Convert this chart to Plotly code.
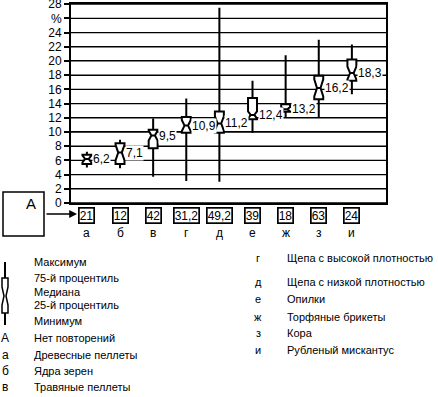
import plotly.graph_objects as go

# ---- data ----
categories = ["а", "б", "в", "г", "д", "е", "ж", "з", "и"]
medians = [6.2, 7.1, 9.5, 10.9, 11.2, 12.4, 13.2, 16.2, 18.3]
median_labels = ["6,2", "7,1", "9,5", "10,9", "11,2", "12,4", "13,2", "16,2", "18,3"]
q1 = [5.5, 5.5, 7.7, 9.9, 9.9, 11.8, 12.85, 14.6, 17.2]
q3 = [6.8, 8.4, 10.3, 12.1, 12.9, 14.8, 13.9, 17.9, 20.2]
minimum = [5.0, 4.9, 3.7, 3.1, 3.0, 9.9, 12.05, 12.05, 15.3]
maximum = [7.2, 8.9, 11.9, 14.7, 27.5, 17.2, 20.8, 23.0, 22.3]
notch = [0.5, 1.1, 0.7, 0.8, 1.0, 0.5, 0.3, 1.2, 0.9]
replicates = ["21", "12", "42", "31,2", "49,2", "39", "18", "63", "24"]
y_ticks = [0, 2, 4, 6, 8, 10, 12, 14, 16, 18, 20, 22, 24, 26, 28]
y_ticktext = ["0", "2", "4", "6", "8", "10", "12", "14", "16", "18", "20", "22", "24", "%", "28"]
legend_box = ["Максимум", "75-й процентиль", "Медиана", "25-й процентиль", "Минимум"]
legend_left_keys = ["А", "а", "б", "в"]
legend_left = ["Нет повторений", "Древесные пеллеты", "Ядра зерен", "Травяные пеллеты"]
legend_right_keys = ["г", "д", "е", "ж", "з", "и"]
legend_right = ["Щепа с высокой плотностью", "Щепа с низкой плотностью", "Опилки",
                "Торфяные брикеты", "Кора", "Рубленый мискантус"]

# ---- layout geometry (pixels) ----
W, H = 438, 397
L, R, T, B = 71, 386, 4, 203
FONT = "Liberation Sans, Arial, sans-serif"


def px(x):
    return (x - L) / (R - L)


def py(y):
    return (B - y) / (B - T)


xs = list(range(len(categories)))

fig = go.Figure()
fig.add_trace(go.Box(
    x=xs, q1=q1, median=medians, q3=q3,
    lowerfence=minimum, upperfence=maximum,
    notched=True, notchspan=notch, notchwidth=0.3,
    width=0.27, whiskerwidth=0,
    fillcolor="white", line=dict(color="black", width=2),
    boxpoints=False, hoverinfo="skip",
))

annotations = []
for i, (m, lab) in enumerate(zip(medians, median_labels)):
    annotations.append(dict(x=i, y=m, xref="x", yref="y", text=lab, showarrow=False,
                            xanchor="left", yanchor="middle", xshift=5,
                            bgcolor="white", borderpad=0,
                            font=dict(family=FONT, size=12, color="black")))
for i, (rep, cat) in enumerate(zip(replicates, categories)):
    annotations.append(dict(x=i, y=py(215), xref="x", yref="paper", text=rep, showarrow=False,
                            xanchor="center", yanchor="middle",
                            bordercolor="black", borderwidth=1.7, borderpad=0,
                            font=dict(family=FONT, size=12, color="black")))
    annotations.append(dict(x=i, y=py(233), xref="x", yref="paper", text=cat, showarrow=False,
                            xanchor="center", yanchor="middle",
                            font=dict(family=FONT, size=12, color="black")))

# "A" box and arrow
annotations.append(dict(x=px(23.5), y=py(214), xref="paper", yref="paper", text="А",
                        showarrow=False, font=dict(family=FONT, size=15, color="black")))
annotations.append(dict(x=px(77), y=py(214), xref="paper", yref="paper", text="",
                        showarrow=True, ax=-32, ay=0, arrowhead=2, arrowsize=1.2,
                        arrowwidth=1.3, arrowcolor="black"))

# legend texts
for t, yv in zip(legend_box, [262, 278, 292, 305, 321]):
    annotations.append(dict(x=px(32), y=py(yv), xref="paper", yref="paper", text=t,
                            showarrow=False, xanchor="left", yanchor="middle",
                            font=dict(family=FONT, size=11, color="black")))
for k, t, yv in zip(legend_left_keys, legend_left, [338, 355, 371, 387]):
    annotations.append(dict(x=px(5), y=py(yv), xref="paper", yref="paper", text=k,
                            showarrow=False, xanchor="center", yanchor="middle",
                            font=dict(family=FONT, size=12, color="black")))
    annotations.append(dict(x=px(32), y=py(yv), xref="paper", yref="paper", text=t,
                            showarrow=False, xanchor="left", yanchor="middle",
                            font=dict(family=FONT, size=11, color="black")))
for k, t, yv in zip(legend_right_keys, legend_right, [258, 282, 299, 317, 333, 350]):
    annotations.append(dict(x=px(258), y=py(yv), xref="paper", yref="paper", text=k,
                            showarrow=False, xanchor="center", yanchor="middle",
                            font=dict(family=FONT, size=11, color="black")))
    annotations.append(dict(x=px(285), y=py(yv), xref="paper", yref="paper", text=t,
                            showarrow=False, xanchor="left", yanchor="middle",
                            font=dict(family=FONT, size=11, color="black")))

shapes = [
    dict(type="rect", xref="paper", yref="paper", x0=px(3), x1=px(44), y0=py(192), y1=py(236),
         line=dict(color="black", width=1.5), fillcolor="white"),
    dict(type="line", xref="paper", yref="paper", x0=px(5), x1=px(5), y0=py(262), y1=py(325),
         line=dict(color="black", width=2)),
]
pts = [(2, 278), (8, 278), (8, 287), (6, 296), (8, 305), (8, 313), (2, 313), (2, 305), (4, 296), (2, 287)]
path = "M " + " L ".join(f"{px(a)},{py(b)}" for a, b in pts) + " Z"
shapes.append(dict(type="path", xref="paper", yref="paper", path=path,
                   line=dict(color="black", width=1.5), fillcolor="white"))
# horizontal grid lines at every tick
for v in y_ticks:
    shapes.append(dict(type="line", xref="paper", yref="y", x0=0, x1=1, y0=v, y1=v,
                       layer="below", line=dict(color="black", width=1.3)))

fig.update_layout(
    width=W, height=H,
    margin=dict(l=L, r=W - R, t=T, b=H - B, pad=0, autoexpand=False),
    plot_bgcolor="white", paper_bgcolor="white",
    showlegend=False,
    font=dict(family=FONT, size=12, color="black"),
    annotations=annotations, shapes=shapes,
    xaxis=dict(range=[-0.48, 9.03], showticklabels=False, showgrid=False, zeroline=False,
               showline=True, linecolor="black", linewidth=1.5, mirror=True, ticks="",
               automargin=False),
    yaxis=dict(range=[0, 28.02], tickvals=y_ticks, ticktext=y_ticktext, tickmode="array",
               showgrid=True, gridcolor="black", gridwidth=1.3, zeroline=False,
               showline=True, linecolor="black", linewidth=2, mirror=True,
               ticks="outside", ticklen=5, tickwidth=1.5, tickcolor="black",
               ticklabeloverflow="allow", automargin=False,
               tickfont=dict(family=FONT, size=12, color="black")),
)

fig.write_html("out.html", config={"displayModeBar": False},
               post_script="document.body.style.margin='0';document.body.style.overflow='hidden';")
